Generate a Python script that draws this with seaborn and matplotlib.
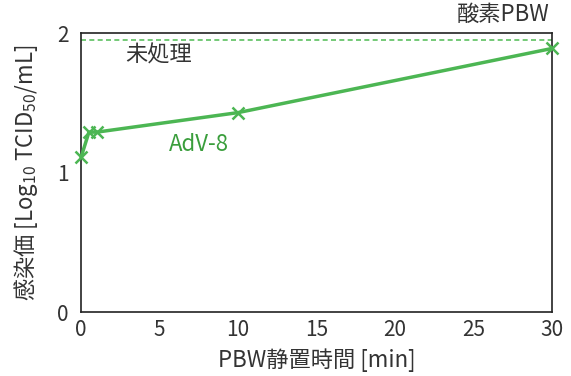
import numpy as np
import pandas as pd
import seaborn as sns
import matplotlib.pyplot as plt

# PBW静置時間ごとの感染価 (AdV-8)
time_min = [0, 0.5, 1, 10, 30]
titer = [1.11, 1.29, 1.29, 1.43, 1.89]
untreated = 1.95
x_ticks = [0, 5, 10, 15, 20, 25, 30]
y_ticks = [0, 1, 2]

df = pd.DataFrame({"time": time_min, "titer": titer})

sns.set_style("white")
plt.rcParams['font.family'] = ['Noto Sans CJK JP', 'DejaVu Sans']
plt.rcParams['mathtext.fontset'] = 'custom'
plt.rcParams['mathtext.rm'] = 'Noto Sans CJK JP'
plt.rcParams['mathtext.it'] = 'Noto Sans CJK JP'

fig = plt.figure(figsize=(5.71, 3.76), dpi=100)
ax = fig.add_axes([0.142, 0.170, 0.825, 0.742])

green = "#4cb653"
txt = "#333333"
ax.axhline(untreated, color="#5cc060", lw=1.2, ls=(0, (3, 2)))
sns.lineplot(data=df, x="time", y="titer", ax=ax, color=green, lw=2.5,
             marker="x", markersize=9, mew=1.8, mec=green, clip_on=False,
             zorder=5)

ax.set_xlim(0, 30)
ax.set_ylim(0, 2)
ax.set_xticks(x_ticks)
ax.set_yticks(y_ticks)
ax.tick_params(direction="in", length=4, width=1, labelsize=15, colors=txt)
ax.tick_params(axis="y", pad=9)
ax.tick_params(axis="x", pad=5)
for s in ax.spines.values():
    s.set_color("#222222")
    s.set_linewidth(1.2)

ax.set_xlabel("PBW静置時間 [min]", fontsize=16, color=txt, labelpad=5)
ax.set_ylabel("感染価 [Log$_{10}$ TCID$_{50}$/mL]", fontsize=16, color=txt,
              labelpad=12)

ax.text(2.8, 1.84, "未処理", fontsize=16, color=txt, va="center")
ax.text(5.6, 1.2, "AdV-8", fontsize=16, color="#3a9e3c", va="center")
ax.text(29.8, 2.05, "酸素PBW", fontsize=16, color=txt, ha="right", va="bottom")

fig.savefig("out.png", dpi=100)
